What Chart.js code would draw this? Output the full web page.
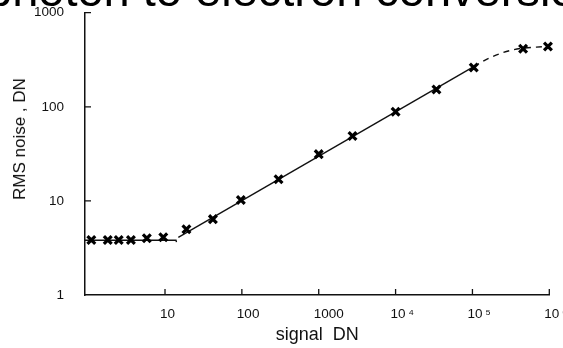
<!DOCTYPE html>
<html lang="en">
<head>
  <meta charset="UTF-8">
  <title>RMS noise vs signal</title>
  <script src="https://cdn.jsdelivr.net/npm/chart.js"></script>
  <style>
    html, body { margin: 0; padding: 0; background: #fff; }
    .wrap { position: relative; width: 563px; height: 348px; overflow: hidden; }
    .heading {
      position: absolute; left: -14px; top: -34px;
      font: 47px/1 "Liberation Sans", Arial, sans-serif; color: #000;
      white-space: nowrap;
    }
    .ytitle {
      position: absolute; left: 20px; top: 139px;
      transform: translate(-50%, -50%) rotate(-90deg);
      font: 17px "Liberation Sans", Arial, sans-serif; color: #111;
      white-space: nowrap;
    }
  </style>
</head>
<body>
<div class="wrap">
  <canvas id="chart"></canvas>
  <div class="heading">photon to electron conversion</div>
  <div class="ytitle">RMS noise , DN</div>
</div>
<script>
  // measured points (x marks)
  const signalDN = [1.1, 1.8, 2.5, 3.6, 5.8, 9.5, 19, 42, 97, 300, 1000, 2750, 10000, 34000, 104000, 456000, 960000];
  const noiseDN  = [3.85, 3.85, 3.85, 3.85, 4.0, 4.1, 5.0, 6.4, 10.2, 17, 31.4, 49, 88.5, 153, 262, 414, 438];

  // read-noise floor (solid)
  const flatX = [0.91, 13.9, 14.1];
  const flatY = [3.82, 3.82, 3.65];
  // shot-noise line (solid)
  const slopeX = [14.9, 104000];
  const slopeY = [4.09, 267];
  // saturation (dashed)
  const dashX = [104000, 168000, 335000, 955000];
  const dashY = [267, 332, 403, 440];

  const xTickValues = [10, 100, 1000, 1e4, 1e5, 1e6];
  const xTickLabels = ['10', '100', '1000', '10\u2009\u2074', '10\u2009\u2075', '10\u2009\u2076'];
  const yTickValues = [1, 10, 100, 1000];
  const yTickLabels = ['1', '10', '100', '1000'];

  const pts = (xs, ys) => xs.map((x, i) => ({ x: x, y: ys[i] }));

  const inwardTicks = {
    id: 'inwardTicks',
    afterDraw(chart) {
      const { ctx, chartArea: a, scales: { x, y } } = chart;
      ctx.save();
      ctx.strokeStyle = '#111';
      ctx.lineWidth = 1.3;
      ctx.beginPath();
      xTickValues.forEach(v => {
        const px = x.getPixelForValue(v);
        ctx.moveTo(px, a.bottom);
        ctx.lineTo(px, a.bottom - 6);
      });
      yTickValues.slice(1).forEach(v => {
        const py = y.getPixelForValue(v);
        ctx.moveTo(a.left, py);
        ctx.lineTo(a.left + 6, py);
      });
      ctx.stroke();
      ctx.restore();
    }
  };

  const font = { family: '"Liberation Sans", Arial, sans-serif' };

  new Chart(document.getElementById('chart'), {
    type: 'scatter',
    data: {
      datasets: [
        {
          data: pts(signalDN, noiseDN),
          pointStyle: 'crossRot', pointRadius: 5.5, pointBorderWidth: 3.2,
          borderColor: '#000', backgroundColor: '#000', showLine: false, clip: false
        },
        {
          data: pts(flatX, flatY), showLine: true, pointRadius: 0,
          borderColor: '#111', borderWidth: 1.4
        },
        {
          data: pts(slopeX, slopeY), showLine: true, pointRadius: 0,
          borderColor: '#111', borderWidth: 1.4
        },
        {
          data: pts(dashX, dashY), showLine: true, pointRadius: 0,
          borderColor: '#111', borderWidth: 1.4, borderDash: [6, 5],
          cubicInterpolationMode: 'monotone', clip: false
        }
      ]
    },
    options: {
      responsive: true,
      maintainAspectRatio: false,
      animation: false,
      layout: { padding: { top: 12.7, right: 13.7, left: 0, bottom: 0 } },
      plugins: { legend: { display: false }, tooltip: { enabled: false } },
      scales: {
        x: {
          type: 'logarithmic', min: 0.91, max: 1e6,
          afterBuildTicks: s => { s.ticks = xTickValues.map(v => ({ value: v })); },
          afterFit: s => { s.height = 53; s.paddingLeft = 0; s.paddingRight = 0; },
          grid: { display: false, drawTicks: false },
          border: { display: true, color: '#111', width: 1.5 },
          ticks: {
            autoSkip: false, maxRotation: 0, align: 'start', labelOffset: -5, padding: 11,
            color: '#111', font: Object.assign({ size: 13.5 }, font),
            callback: (v, i) => xTickLabels[i]
          },
          title: {
            display: true, text: 'signal  DN', color: '#111',
            font: Object.assign({ size: 18 }, font), padding: { top: 0, bottom: 2 }
          }
        },
        y: {
          type: 'logarithmic', min: 1, max: 1000,
          afterBuildTicks: s => { s.ticks = yTickValues.map(v => ({ value: v })); },
          afterFit: s => { s.width = 85; s.paddingTop = 0; s.paddingBottom = 0; },
          grid: { display: false, drawTicks: false },
          border: { display: true, color: '#111', width: 1.5 },
          ticks: {
            autoSkip: false, padding: 21,
            color: '#111', font: Object.assign({ size: 13.5 }, font),
            callback: (v, i) => yTickLabels[i]
          }
        }
      }
    },
    plugins: [inwardTicks]
  });
</script>
</body>
</html>
